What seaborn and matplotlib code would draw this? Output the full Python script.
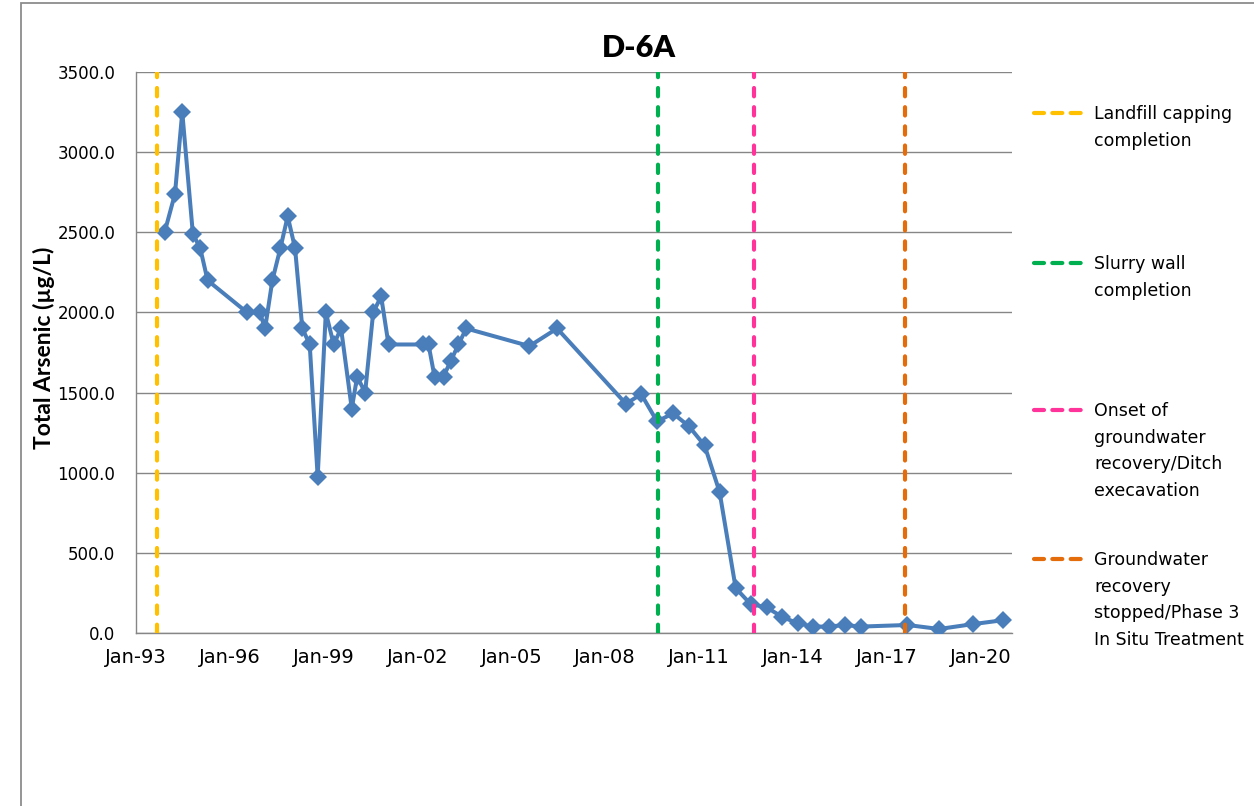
import numpy as np
import pandas as pd
import matplotlib
matplotlib.use("Agg")
import matplotlib.pyplot as plt
import matplotlib.dates as mdates
from matplotlib.lines import Line2D
from matplotlib.patches import Rectangle
from matplotlib.ticker import FuncFormatter
import seaborn as sns

# ---------------- data ----------------
sample_dates = [
    "1993-12-01", "1994-04-01", "1994-06-25", "1994-10-27", "1995-01-21", "1995-04-17",
    "1996-07-20", "1996-12-16", "1997-02-16", "1997-05-12", "1997-08-13", "1997-11-07",
    "1998-02-01", "1998-04-27", "1998-07-22", "1998-10-23", "1999-01-26", "1999-04-28",
    "1999-07-23", "1999-11-25", "2000-01-27", "2000-04-29", "2000-08-01", "2000-11-02",
    "2001-01-27", "2002-03-04", "2002-05-09", "2002-07-18", "2002-10-31", "2003-01-26",
    "2003-04-24", "2003-07-23", "2005-07-30", "2006-06-18", "2008-08-30", "2009-02-24",
    "2009-08-28", "2010-03-03", "2010-09-04", "2011-03-06", "2011-08-28", "2012-03-03",
    "2012-08-25", "2013-02-27", "2013-08-29", "2014-02-28", "2014-08-27", "2015-02-25",
    "2015-08-31", "2016-03-02", "2017-08-29", "2018-09-03", "2019-09-28", "2020-09-20",
]
arsenic_ugL = [
    2500, 2740, 3250, 2490, 2400, 2200,
    2000, 2000, 1900, 2200, 2400, 2600,
    2400, 1900, 1800, 975, 2000, 1800,
    1900, 1400, 1600, 1500, 2000, 2100,
    1800, 1800, 1800, 1600, 1600, 1700,
    1800, 1900, 1790, 1900, 1430, 1490,
    1320, 1370, 1290, 1170, 880, 280,
    180, 160, 100, 60, 40, 40,
    50, 40, 50, 25, 55, 80,
]

event_labels = [
    "Landfill capping\ncompletion",
    "Slurry wall\ncompletion",
    "Onset of\ngroundwater\nrecovery/Ditch\nexecavation",
    "Groundwater\nrecovery\nstopped/Phase 3\nIn Situ Treatment",
]
event_dates = ["1993-09-06", "2009-09-06", "2012-10-03", "2017-07-29"]
event_colors = ["#FFC000", "#00B050", "#FF3399", "#E46C0A"]

x_tick_dates = ["1993-01-01", "1996-01-01", "1999-01-01", "2002-01-01", "2005-01-01",
                "2008-01-01", "2011-01-01", "2014-01-01", "2017-01-01", "2020-01-01"]
y_ticks = [0, 500, 1000, 1500, 2000, 2500, 3000, 3500]

title = "D-6A"
y_label = "Total Arsenic (\u00b5g/L)"

# ---------------- figure ----------------
sns.set_style("white")
plt.rcParams["font.family"] = ["DejaVu Sans"]
plt.rcParams["text.color"] = "black"

W, H = 1254, 806
fig = plt.figure(figsize=(W / 100, H / 100), dpi=100)
fig.patch.set_facecolor("white")

# chart border (extends past right / bottom edge like the original crop)
fig.add_artist(Rectangle((20.5 / W, -0.05), 1.2, (1 - 3.5 / H) + 0.05,
                         transform=fig.transFigure, fill=False,
                         edgecolor="#8C8C8C", linewidth=1.3))

ax = fig.add_axes([136 / W, 1 - 633 / H, 876 / W, 561 / H])

df = pd.DataFrame({"date": pd.to_datetime(sample_dates), "arsenic": arsenic_ugL})
sns.lineplot(data=df, x="date", y="arsenic", ax=ax, color="#4A7EBB",
             linewidth=2.9, marker="D", markersize=9, markeredgewidth=0,
             zorder=3, legend=False)

for d, c in zip(event_dates, event_colors):
    ax.axvline(pd.Timestamp(d), color=c, linewidth=3, dashes=(2.0, 2.6),
               dash_capstyle="round", zorder=4)

ax.set_xlim(pd.Timestamp("1993-01-01"), pd.Timestamp("2021-01-01"))
ax.set_ylim(0, 3500)
ax.set_yticks(y_ticks)
ax.yaxis.set_major_formatter(FuncFormatter(lambda v, p: f"{v:.1f}"))
ax.set_xticks(pd.to_datetime(x_tick_dates))
ax.xaxis.set_major_formatter(mdates.DateFormatter("%b-%y"))

ax.grid(axis="y", color="#868686", linewidth=1.0)
ax.grid(axis="x", visible=False)
ax.set_axisbelow(True)
for s in ["top", "right"]:
    ax.spines[s].set_visible(False)
for s in ["left", "bottom"]:
    ax.spines[s].set_color("#868686")
    ax.spines[s].set_linewidth(1.0)

ax.tick_params(axis="y", direction="out", length=5, width=1, color="#868686",
               labelsize=12, pad=10, labelcolor="black")
ax.tick_params(axis="x", direction="out", length=5, width=1, color="#868686",
               labelsize=14, pad=6, labelcolor="black")

ax.set_xlabel("")
ax.set_ylabel(y_label, fontsize=16.5, fontweight="bold", color="black",
              family=["Lato", "DejaVu Sans"])
ax.yaxis.set_label_coords((55 - 136) / 876, (633 - 348) / 561)

fig.text(639 / W, 1 - 57 / H, title, ha="center", va="baseline", color="black",
         fontsize=22, fontweight="heavy", family=["Lato", "DejaVu Sans"])

# legend drawn at the right, first line aligned with the dashed sample
marker_y = [113, 263, 410, 559]
for y, c, lab in zip(marker_y, event_colors, event_labels):
    fig.add_artist(Line2D([1034 / W, 1083 / W], [1 - y / H] * 2, transform=fig.transFigure,
                          color=c, linewidth=3, dashes=(2.4, 2.0), dash_capstyle="round"))
    for i, line in enumerate(lab.split("\n")):
        fig.text(1094 / W, 1 - (y + 6 + 26.7 * i) / H, line, ha="left", va="baseline",
                 fontsize=12.5, color="black")

fig.savefig("out.png", dpi=100, facecolor="white")
